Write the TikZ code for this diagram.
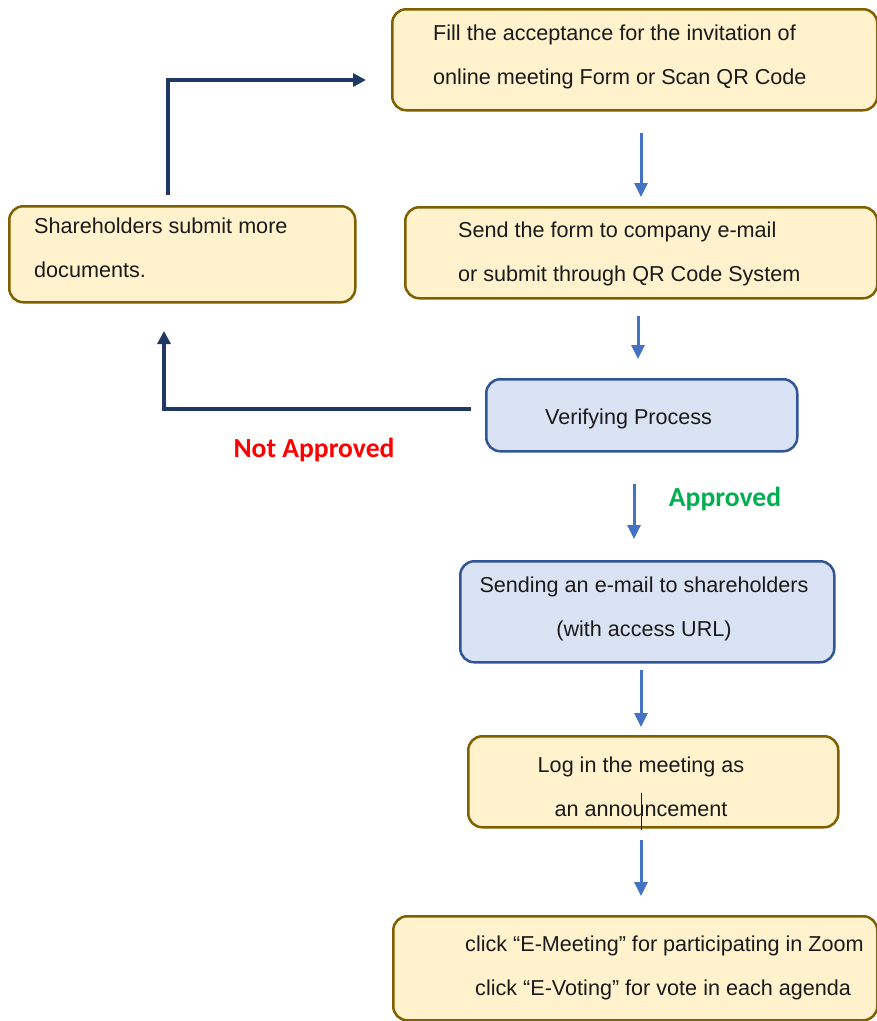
\documentclass[tikz,border=0pt]{standalone}
\usepackage{fontspec}
\setmainfont{Liberation Sans}
\newfontfamily\calfont{Carlito}
\usetikzlibrary{arrows.meta}
\definecolor{yfill}{HTML}{FFF2CC}
\definecolor{ydraw}{HTML}{7F6000}
\definecolor{bfill}{HTML}{DAE3F3}
\definecolor{bdraw}{HTML}{2F5597}
\definecolor{arrblue}{HTML}{4472C4}
\definecolor{navy}{HTML}{1F3864}
\definecolor{okgreen}{HTML}{00B050}
\definecolor{txt}{HTML}{1A1A1A}
\tikzset{
  box/.style={rounded corners=14pt, line width=2.5pt, anchor=north west, inner sep=0pt},
  ybox/.style={box, draw=ydraw, fill=yfill},
  bbox/.style={box, draw=bdraw, fill=bfill},
  label/.style={font=\fontsize{21.6}{44}\selectfont, text=txt, inner sep=0pt},
  status/.style={font=\calfont\bfseries\fontsize{27.6}{30}\selectfont},
  barrow/.style={draw=arrblue, line width=3pt, -{Triangle[length=14pt,width=13pt]}},
  narrow/.style={draw=navy, line width=4pt, line join=miter, -{Triangle[length=13pt,width=13pt]}},
}
\begin{document}
\begin{tikzpicture}[x=1pt,y=-1pt]
\useasboundingbox (0,0) rectangle (877,1021);
% boxes
\node[ybox, minimum width=485pt, minimum height=101pt] (b1) at (391,8) {};
\node[ybox, minimum width=346pt, minimum height=96pt] (sh) at (8,205) {};
\node[ybox, minimum width=472pt, minimum height=91pt] (b2) at (404,206) {};
\node[bbox, minimum width=311pt, minimum height=72pt] (ver) at (485,378) {};
\node[bbox, minimum width=374pt, minimum height=101pt] (mail) at (459,560) {};
\node[ybox, minimum width=370pt, minimum height=91pt] (log) at (467,735) {};
\node[ybox, minimum width=484pt, minimum height=104pt] (fin) at (392,915) {};
% texts
\node[label, anchor=west, align=left] (t1) at (433,57) {Fill the acceptance for the invitation of\\online meeting Form or Scan QR Code};
\node[label, anchor=west, align=left] (tsh) at (34,248) {Shareholders submit more\\documents.};
\node[label, anchor=west, align=left] (t2) at (458,254) {Send the form to company e-mail\\or submit through QR Code System};
\node[label, anchor=west] (tver) at (545,419) {Verifying Process};
\node[label, align=center] (tmail) at (644,609) {Sending an e-mail to shareholders\\(with access URL)};
\node[label, align=center] (tlog) at (641,787) {Log in the meeting as\\an announcement};
\node[label, anchor=west, align=left] (tfin) at (465,968) {click “E-Meeting” for participating in Zoom\\\hspace*{10pt}click “E-Voting” for vote in each agenda};
\node[status, text=red] (na) at (314,450) {Not Approved};
\node[status, text=okgreen] (ap) at (725,499) {Approved};
% cursor artifact
\draw[txt, line width=1pt] (641,793) -- (641,830);
% blue arrows
\coordinate (a1s) at (641,133); \coordinate (a1e) at (641,197);
\coordinate (a2s) at (638,316); \coordinate (a2e) at (638,359);
\coordinate (a3s) at (634,484); \coordinate (a3e) at (634,539);
\coordinate (a4s) at (641,670); \coordinate (a4e) at (641,727);
\coordinate (a5s) at (641,840); \coordinate (a5e) at (641,896);
\draw[barrow] (a1s) -- (a1e);
\draw[barrow] (a2s) -- (a2e);
\draw[barrow] (a3s) -- (a3e);
\draw[barrow] (a4s) -- (a4e);
\draw[barrow] (a5s) -- (a5e);
% navy arrows
\coordinate (n1s) at (168,195); \coordinate (n1e) at (366,80);
\draw[narrow] (n1s) |- (n1e);
\coordinate (n2s) at (471,409); \coordinate (n2e) at (164,331);
\draw[narrow] (n2s) -| (n2e);
\end{tikzpicture}
\end{document}
